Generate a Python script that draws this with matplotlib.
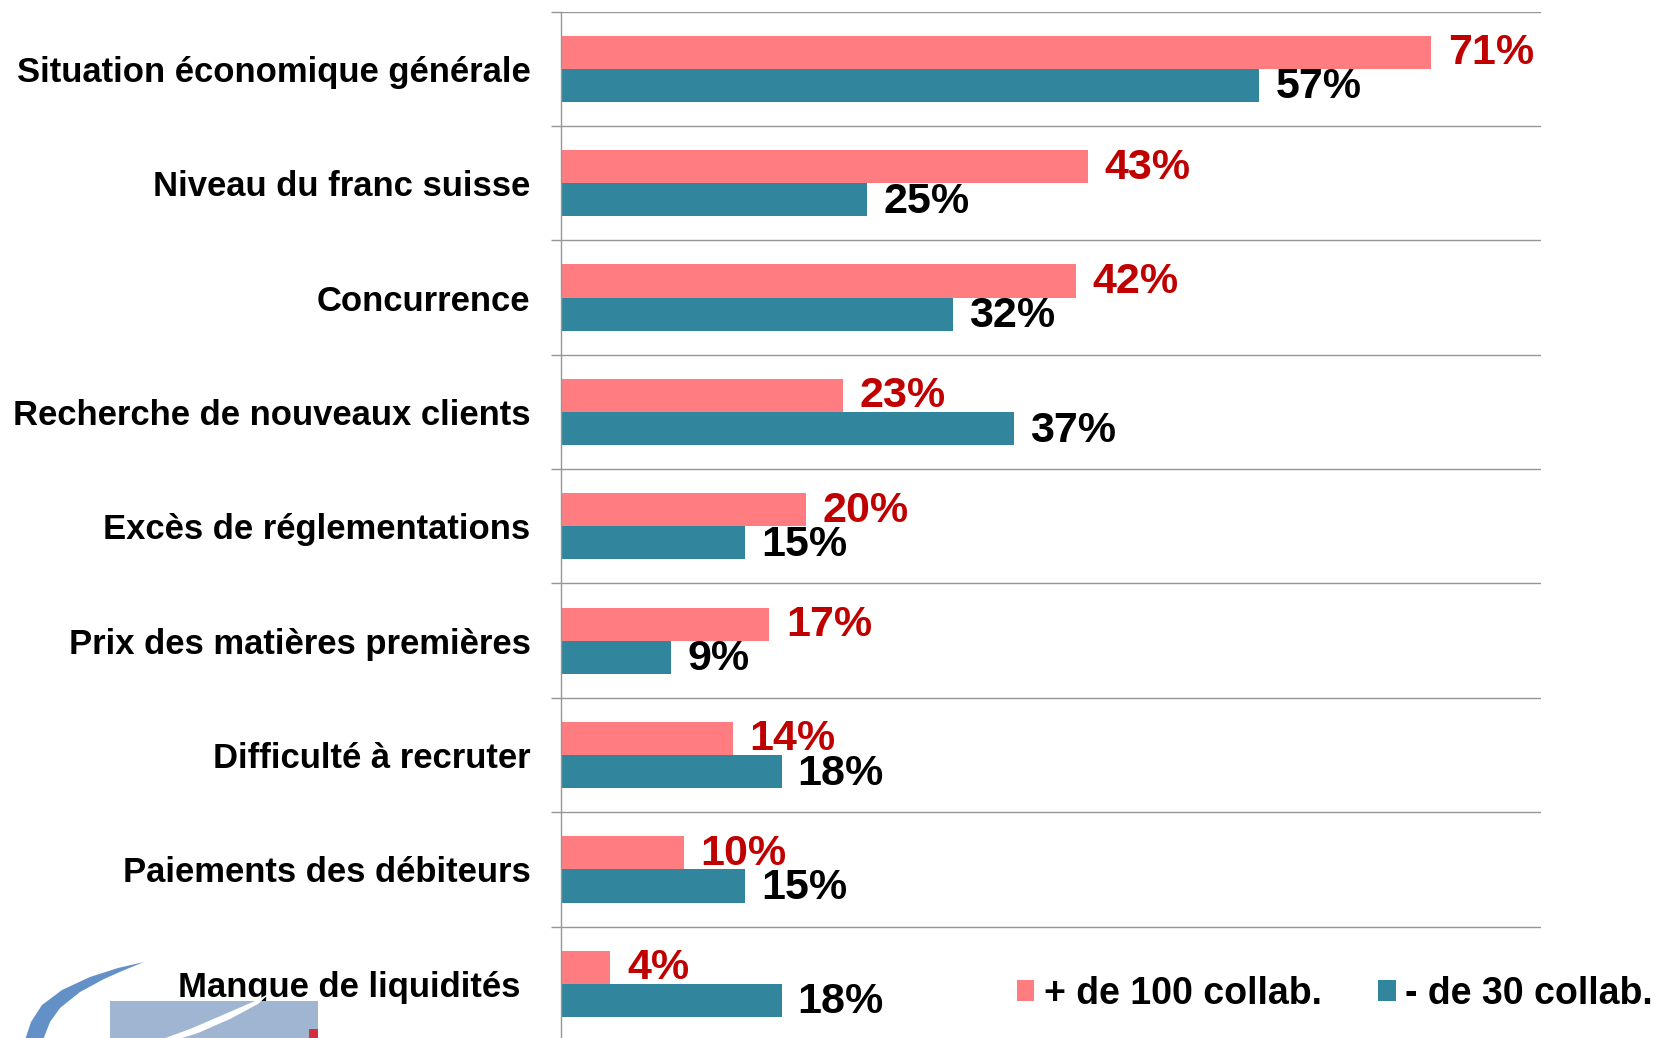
import numpy as np
import matplotlib
matplotlib.use("Agg")
import matplotlib.pyplot as plt
from matplotlib.patches import Rectangle, Polygon

plt.rcParams['font.family'] = ['Liberation Sans', 'DejaVu Sans']
plt.rcParams['font.weight'] = 'bold'

# donnees
categories = ["Situation économique générale", "Niveau du franc suisse", "Concurrence",
              "Recherche de nouveaux clients", "Excès de réglementations",
              "Prix des matières premières", "Difficulté à recruter",
              "Paiements des débiteurs", "Manque de liquidités "]
plus_100 = [71, 43, 42, 23, 20, 17, 14, 10, 4]
moins_30 = [57, 25, 32, 37, 15, 9, 18, 15, 18]
series_names = ["+ de 100 collab.", "- de 30 collab."]

pink = '#FF7C80'
teal = '#31859C'
grid_col = '#969696'

W, H = 1655, 1038
fig = plt.figure(figsize=(W / 100, H / 100), dpi=100)
ax = fig.add_axes([561 / W, -3 / H, 980 / W, (1038 - 11.6 + 3) / H])

y = np.arange(len(categories))
bh = 0.29
b1 = ax.barh(y - bh / 2, plus_100, height=bh, color=pink, label=series_names[0], zorder=2)
b2 = ax.barh(y + bh / 2, moins_30, height=bh, color=teal, label=series_names[1], zorder=2)

# etiquettes de valeurs
for yi, v in zip(y, plus_100):
    ax.annotate(f"{v}%", (v, yi - bh / 2), xytext=(17, -1), textcoords='offset pixels',
                ha='left', va='center', fontsize=31, color='#C00000', fontweight='bold', zorder=4)
for yi, v in zip(y, moins_30):
    ax.annotate(f"{v}%", (v, yi + bh / 2), xytext=(16, -2), textcoords='offset pixels',
                ha='left', va='center', fontsize=31, color='black', fontweight='bold', zorder=4)

ax.set_xlim(0, 80)
ax.set_ylim(len(categories) - 0.5, -0.5)
ax.set_xticks([])
ax.set_yticks(y)
ax.set_yticklabels(categories, fontsize=24.9, fontweight='bold')
ax.set_yticks(np.arange(len(categories) + 1) - 0.5, minor=True)
ax.tick_params(axis='y', which='major', length=0, pad=22)
ax.tick_params(axis='y', which='minor', length=7.2, width=1.0, color=grid_col, direction='out')
ax.grid(which='minor', axis='y', color=grid_col, linewidth=1.0, zorder=1)
ax.set_axisbelow(True)
for s in ['top', 'right', 'bottom']:
    ax.spines[s].set_visible(False)
ax.spines['left'].set_color(grid_col)
ax.spines['left'].set_linewidth(1.0)
ax.spines['left'].set_zorder(3)

leg = fig.legend(handles=[b1, b2], loc='center right', bbox_to_anchor=(1653 / W, 1 - 994 / H),
                 ncol=2, frameon=False, fontsize=27, handlelength=0.46, handleheight=0.5,
                 handletextpad=0.26, columnspacing=1.5, borderpad=0, borderaxespad=0)
for t in leg.get_texts():
    t.set_fontweight('bold')


# logo en bas a gauche (decor)
def fpt(pts):
    return [(a / W, 1 - b / H) for a, b in pts]


fig.patches.append(Rectangle((110 / W, 1 - 1040 / H), 208 / W, 39 / H,
                             transform=fig.transFigure, facecolor='#A0B5D2', edgecolor='none', zorder=0))
fig.patches.append(Rectangle((309 / W, 1 - 1040 / H), 9 / W, 11 / H,
                             transform=fig.transFigure, facecolor='#D42E3F', edgecolor='none', zorder=1))

swoosh = [(25, 1040), (31, 1022), (42, 1005), (62, 990), (90, 977), (118, 968), (144, 962),
          (122, 971), (104, 979), (80, 992), (60, 1008), (50, 1022), (43, 1040)]
fig.patches.append(Polygon(fpt(swoosh), closed=True, transform=fig.transFigure,
                           facecolor='#6390C6', edgecolor='none', zorder=1))

white = [(160, 1040), (190, 1029), (225, 1014), (255, 1001), (270, 993),
         (258, 1004), (230, 1019), (198, 1033), (176, 1040)]
fig.patches.append(Polygon(fpt(white), closed=True, transform=fig.transFigure,
                           facecolor='white', edgecolor='none', zorder=1))

fig.savefig("out.png", dpi=100)
